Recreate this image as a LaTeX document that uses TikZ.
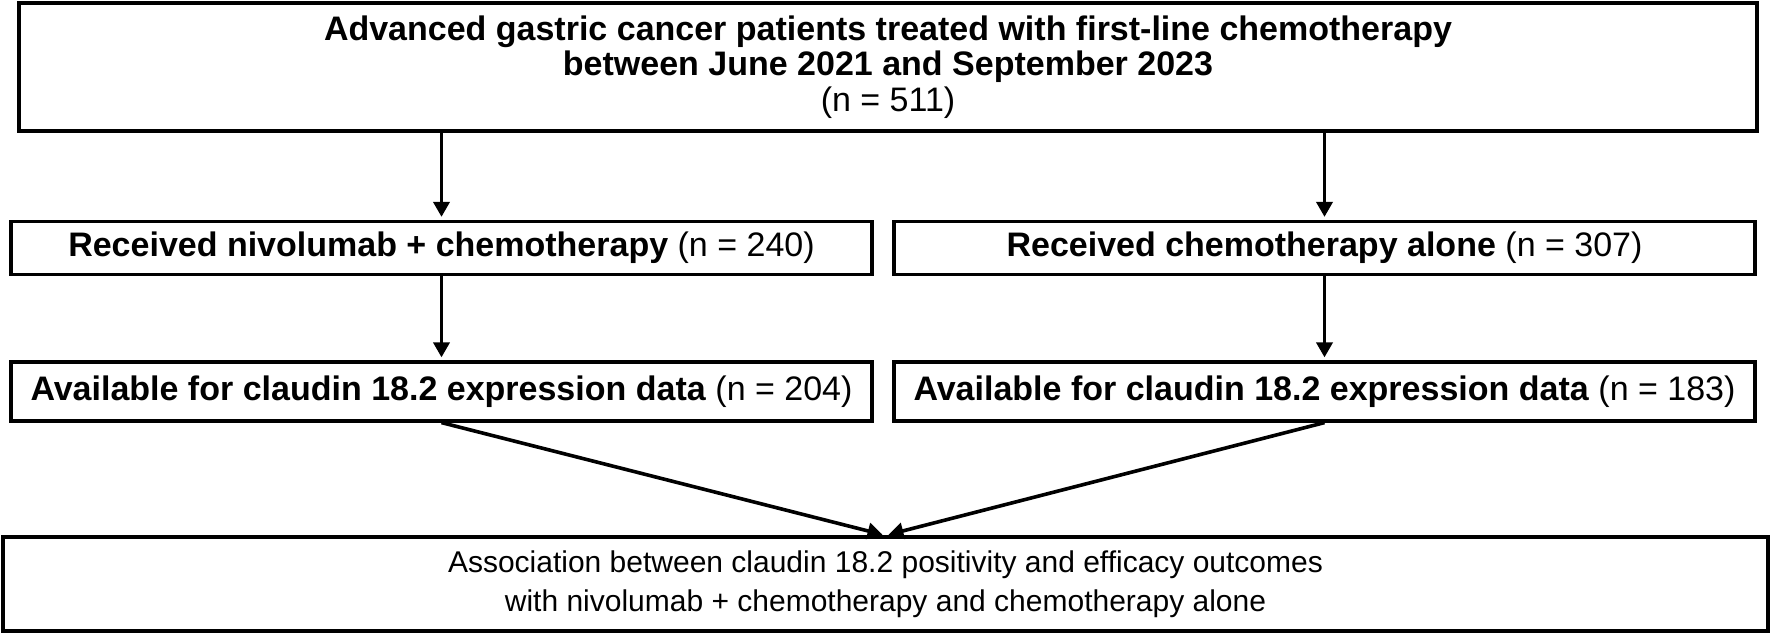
\documentclass[tikz,border=0pt]{standalone}
\usepackage{fontspec}
\setmainfont{Liberation Sans}
\usetikzlibrary{arrows.meta}
\begin{document}
\begin{tikzpicture}[x=1bp,y=-1bp,
  box/.style={draw,line width=3.2bp,inner sep=0pt,align=center,font=\fontsize{34bp}{35.6bp}\selectfont},
  arr/.style={line width=3.6bp,-{Triangle[length=15bp,width=16bp]},shorten >=3bp}]
\useasboundingbox (0,0) rectangle (1775,633);
\node[box,minimum width=1738bp,minimum height=128bp] (top) at (888,67)
  {\textbf{Advanced gastric cancer patients treated with first-line chemotherapy}\\
   \textbf{between June 2021 and September 2023}\\(n = 511)};
\node[box,minimum width=861bp,minimum height=53bp] (r2l) at (441.5,248)
  {\textbf{Received nivolumab + chemotherapy} (n = 240)};
\node[box,minimum width=861bp,minimum height=53bp] (r2r) at (1324.5,248)
  {\textbf{Received chemotherapy alone} (n = 307)};
\node[box,minimum width=861bp,minimum height=59bp] (r3l) at (441.5,391.5)
  {\textbf{Available for claudin 18.2 expression data} (n = 204)};
\node[box,minimum width=861bp,minimum height=59bp] (r3r) at (1324.5,391.5)
  {\textbf{Available for claudin 18.2 expression data} (n = 183)};
\node[box,minimum width=1765bp,minimum height=94bp,font=\fontsize{30bp}{38.5bp}\selectfont] (bot) at (885.5,584)
  {Association between claudin 18.2 positivity and efficacy outcomes\\
   with nivolumab + chemotherapy and chemotherapy alone};
\draw[arr] (top.south -| r2l.north) -- (r2l.north);
\draw[arr] (top.south -| r2r.north) -- (r2r.north);
\draw[arr] (r2l) -- (r3l);
\draw[arr] (r2r) -- (r3r);
\draw[arr] (r3l.south) -- (bot.north);
\draw[arr] (r3r.south) -- (bot.north);
\end{tikzpicture}
\end{document}
